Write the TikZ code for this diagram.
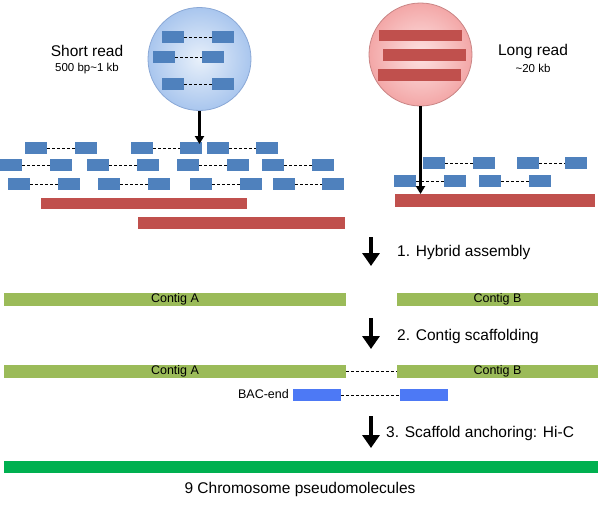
\documentclass[tikz,border=0pt]{standalone}
\usepackage{fontspec}
\setmainfont{Liberation Sans}
\usetikzlibrary{arrows.meta}
\definecolor{readblue}{HTML}{4F81BD}
\definecolor{readred}{HTML}{C0504D}
\definecolor{contiggreen}{HTML}{9BBB59}
\definecolor{chromgreen}{HTML}{00B050}
\definecolor{bacblue}{HTML}{4D79F5}
\definecolor{bcin}{HTML}{E8F0FA}
\definecolor{bcout}{HTML}{A9C6EE}
\definecolor{bcline}{HTML}{8AA8D6}
\definecolor{rcin}{HTML}{FDE2E2}
\definecolor{rcout}{HTML}{F3A7A7}
\definecolor{rcline}{HTML}{C98585}
\begin{document}
\begin{tikzpicture}[x=1pt,y=-1pt,
  rb/.style={fill=readblue, minimum width=22pt, minimum height=12pt, inner sep=0pt},
  bar/.style={inner sep=0pt, outer sep=0pt},
  redbar/.style={bar, fill=readred},
  contig/.style={bar, fill=contiggreen, minimum width=#1, minimum height=13pt, font=\fontsize{12.5}{13}\selectfont},
  bacbox/.style={bar, fill=bacblue, minimum width=48pt, minimum height=12pt},
  dsh/.style={dash pattern=on 3pt off 2pt, line width=0.7pt},
  carrow/.style={line width=2.6pt, -{Triangle[width=9pt,length=8pt]}},
  steparrow/.style={line width=4.5pt, -{Triangle[width=17pt,length=13pt]}},
  steptext/.style={anchor=west, inner sep=0pt, font=\fontsize{15.5}{17}\selectfont},
  bigtext/.style={inner sep=0pt, font=\fontsize{15.5}{17}\selectfont},
  smalltext/.style={inner sep=0pt, font=\fontsize{11.5}{13}\selectfont},
]
\useasboundingbox (0,0) rectangle (598,507);

% ---- circles ----
\node[circle, minimum size=103pt, inner sep=0pt, draw=bcline, line width=0.8pt,
      inner color=bcin, outer color=bcout] (sc) at (199.5,59) {};
\node[circle, minimum size=103pt, inner sep=0pt, draw=rcline, line width=0.8pt,
      inner color=rcin, outer color=rcout] (rc) at (420.5,54.5) {};

% blocks inside short-read circle
\foreach \n/\a/\b/\y in {c1/162/212/37, c2/153/202/57, c3/162/212/84}{
  \node[rb] (\n a) at ({\a+11},\y) {};
  \node[rb] (\n b) at ({\b+11},\y) {};
  \draw[dsh] (\n a) -- (\n b);
}
% bars inside long-read circle
\node[redbar, minimum width=83pt, minimum height=11pt] (cr1) at (420.5,35.5) {};
\node[redbar, minimum width=83pt, minimum height=12pt] (cr2) at (424.5,55) {};
\node[redbar, minimum width=83pt, minimum height=12pt] (cr3) at (419.5,75) {};

% labels
\node[bigtext] (srt) at (87,51) {Short read};
\node[smalltext] (srs) at (87,69) {500 bp\textasciitilde1 kb};
\node[bigtext] (lrt) at (533,51) {Long read};
\node[smalltext] (lrs) at (533,68) {\textasciitilde20 kb};

% ---- mapped short reads (left and right) ----
\foreach \n/\a/\b/\y in {
  l1/25/75/148, l2/131/180/148, l3/207/256/148,
  l4/0/50/165, l5/87/137/165, l6/177/227/165, l7/262/312/165,
  l8/8/58/184, l9/98/148/184, l10/190/240/184, l11/273/322/184,
  r1/423/473/163, r2/517/565/163,
  r3/394/444/181, r4/479/529/181}{
  \node[rb] (\n a) at ({\a+11},\y) {};
  \node[rb] (\n b) at ({\b+11},\y) {};
  \draw[dsh] (\n a) -- (\n b);
}

% long reads (left and right)
\node[redbar, minimum width=206pt, minimum height=11pt] (lr1) at (144,203.5) {};
\node[redbar, minimum width=207pt, minimum height=12pt] (lr2) at (241.5,223) {};
\node[redbar, minimum width=200pt, minimum height=13pt] (rr) at (495,200.5) {};

% circle arrows
\coordinate (sctip) at (199,144);
\draw[carrow] (sc.south) -- (sc.south |- sctip);
\draw[carrow] (rc.south) -- (rc.south |- rr.north);

% ---- step 1 ----
\coordinate (s1a) at (371,237);
\coordinate (s1b) at (371,266);
\draw[steparrow] (s1a) -- (s1b);
\node[steptext] (t1) at (397,252) {1. Hybrid assembly};

\node[contig=342pt] (ca1) at (175,299.5) {Contig A};
\node[contig=201pt] (cb1) at (497.5,299.5) {Contig B};

% ---- step 2 ----
\coordinate (s2a) at (371,318);
\coordinate (s2b) at (371,349);
\draw[steparrow] (s2a) -- (s2b);
\node[steptext] (t2) at (397,336) {2. Contig scaffolding};

\node[contig=342pt] (ca2) at (175,371.5) {Contig A};
\node[contig=201pt] (cb2) at (497.5,371.5) {Contig B};
\draw[dsh] (ca2.east) -- (cb2.west);

\node[bacbox] (bac1) at (317,395) {};
\node[bacbox] (bac2) at (424,395) {};
\draw[dsh] (bac1) -- (bac2);
\node[anchor=east, inner sep=0pt, font=\fontsize{12.5}{13}\selectfont] (bact) at (289,394) {BAC-end};

% ---- step 3 ----
\coordinate (s3a) at (371,416);
\coordinate (s3b) at (371,448);
\draw[steparrow] (s3a) -- (s3b);
\node[steptext] (t3) at (386,433) {3. Scaffold anchoring: Hi-C};

\node[bar, fill=chromgreen, minimum width=594pt, minimum height=12pt] (chrom) at (301,467) {};
\node[bigtext] (chromt) at (300,489) {9 Chromosome pseudomolecules};
\end{tikzpicture}
\end{document}
